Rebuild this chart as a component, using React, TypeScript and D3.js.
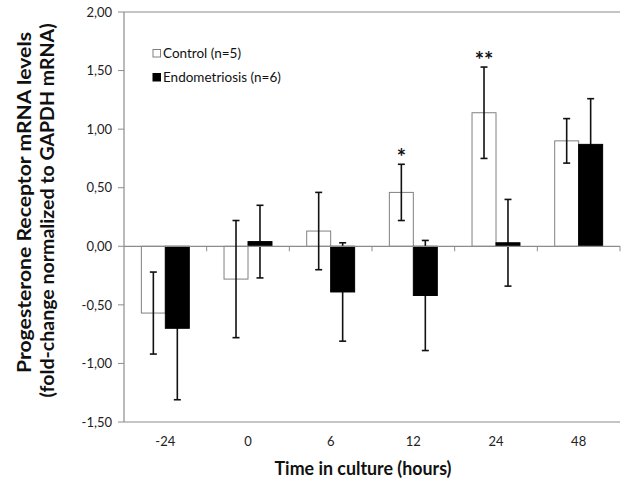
import React from "react";
import * as d3 from "d3";

const categories = ["-24", "0", "6", "12", "24", "48"];
const seriesNames = ["Control (n=5)", "Endometriosis (n=6)"];
const controlMeans = [-0.57, -0.28, 0.13, 0.46, 1.14, 0.9];
const controlErrors = [0.35, 0.5, 0.33, 0.24, 0.39, 0.19];
const endoMeans = [-0.7, 0.04, -0.39, -0.42, 0.03, 0.87];
const endoErrors = [0.61, 0.31, 0.42, 0.47, 0.37, 0.39];
const yTicks = [-1.5, -1.0, -0.5, 0, 0.5, 1.0, 1.5, 2.0];
const stars = [
  { category: "12", label: "*" },
  { category: "24", label: "**" },
];

const W = 623;
const H = 482;
const left = 124;
const right = 620;
const top = 12;
const bottom = 422;
const font = "Lato, 'Open Sans', sans-serif";

export default function App() {
  const x = d3.scaleBand<string>().domain(categories).range([left, right]).paddingInner(0.42).paddingOuter(0.21);
  const y = d3.scaleLinear().domain([-1.5, 2]).range([bottom, top]);
  const bw = x.bandwidth() / 2;
  const step = x.step();
  const fmt = (v: number) => v.toFixed(2).replace(".", ",");
  const series = [
    { means: controlMeans, errors: controlErrors, fill: "#ffffff", stroke: "#808080" },
    { means: endoMeans, errors: endoErrors, fill: "#000000", stroke: "#000000" },
  ];
  const y0 = y(0);

  const errorBars = (si: number) => {
    const s = series[si];
    return categories.map((c, i) => {
      const cx = (x(c) as number) + si * bw + bw / 2;
      const v = s.means[i];
      const e = s.errors[i];
      return (
        <g key={`e${si}-${i}`} stroke="#111" strokeWidth={1.6}>
          <line x1={cx} x2={cx} y1={y(v + e)} y2={y(v - e)} />
          <line x1={cx - 3.5} x2={cx + 3.5} y1={y(v + e)} y2={y(v + e)} />
          <line x1={cx - 3.5} x2={cx + 3.5} y1={y(v - e)} y2={y(v - e)} />
        </g>
      );
    });
  };

  const bars = (si: number) => {
    const s = series[si];
    return categories.map((c, i) => {
      const bx = (x(c) as number) + si * bw;
      const v = s.means[i];
      const yt = Math.min(y(v), y0);
      const h = Math.abs(y(v) - y0);
      return <rect key={`b${si}-${i}`} x={bx} y={yt} width={bw} height={h} fill={s.fill} stroke={s.stroke} strokeWidth={1} />;
    });
  };

  return (
    <svg width={W} height={H} style={{ position: "absolute", left: 0, top: 0, background: "#fff" }}>
      {/* plot frame */}
      <line x1={left} x2={right} y1={top} y2={top} stroke="#8c8c8c" strokeWidth={1.2} />
      <line x1={left} x2={right} y1={bottom} y2={bottom} stroke="#8c8c8c" strokeWidth={1.2} />
      <line x1={left} x2={left} y1={top} y2={bottom} stroke="#8c8c8c" strokeWidth={1.2} />
      {/* y ticks */}
      {yTicks.map((t) => (
        <g key={t}>
          <line x1={left - 6} x2={left} y1={y(t)} y2={y(t)} stroke="#8c8c8c" />
          <text x={112} y={y(t)} dy="0.36em" textAnchor="end" fontSize={13} fontFamily={font} fill="#222">
            {fmt(t)}
          </text>
        </g>
      ))}
      {/* endometriosis error bars, partly hidden behind their black bars */}
      {errorBars(1)}
      {bars(0)}
      {bars(1)}
      {/* zero axis */}
      <line x1={left} x2={right} y1={y0} y2={y0} stroke="#8c8c8c" strokeWidth={1.2} />
      {categories.map((c, i) => (
        <line key={`xt${i}`} x1={left + step * (i + 1)} x2={left + step * (i + 1)} y1={y0} y2={y0 + 5} stroke="#8c8c8c" />
      ))}
      {errorBars(0)}
      {/* stars */}
      {stars.map((s) => {
        const i = categories.indexOf(s.category);
        const cx = (x(s.category) as number) + bw / 2;
        const yy = y(controlMeans[i] + controlErrors[i]) + 1;
        return (
          <text key={s.category} x={cx} y={yy} textAnchor="middle" fontSize={22} fontWeight="bold" fontFamily={font} fill="#111">
            {s.label}
          </text>
        );
      })}
      {/* x labels */}
      {categories.map((c) => (
        <text key={`xl${c}`} x={(x(c) as number) + x.bandwidth() / 2} y={441} dy="0.36em" textAnchor="middle" fontSize={13} fontFamily={font} fill="#222">
          {c}
        </text>
      ))}
      {/* legend */}
      {seriesNames.map((n, i) => (
        <g key={n}>
          <rect x={153} y={49.5 + i * 24} width={7.5} height={7.5} fill={series[i].fill} stroke={series[i].stroke} />
          <text x={163} y={58 + i * 24} fontSize={13.5} fontFamily={font} fill="#111">
            {n}
          </text>
        </g>
      ))}
      {/* axis titles */}
      <text x={363} y={475} textAnchor="middle" fontSize={18} fontWeight="bold" fontFamily={font} fill="#111" textLength={177} lengthAdjust="spacingAndGlyphs">
        Time in culture (hours)
      </text>
      <g transform="translate(31,202.5) rotate(-90)">
        <text x={0} y={0} textAnchor="middle" fontSize={19.5} fontWeight="bold" fontFamily={font} fill="#111" textLength={341} lengthAdjust="spacingAndGlyphs">
          Progesterone Receptor mRNA levels
        </text>
      </g>
      <g transform="translate(54,210.5) rotate(-90)">
        <text x={0} y={0} textAnchor="middle" fontSize={19.5} fontWeight="bold" fontFamily={font} fill="#111" textLength={374} lengthAdjust="spacingAndGlyphs">
          (fold-change normalized to GAPDH mRNA)
        </text>
      </g>
    </svg>
  );
}
